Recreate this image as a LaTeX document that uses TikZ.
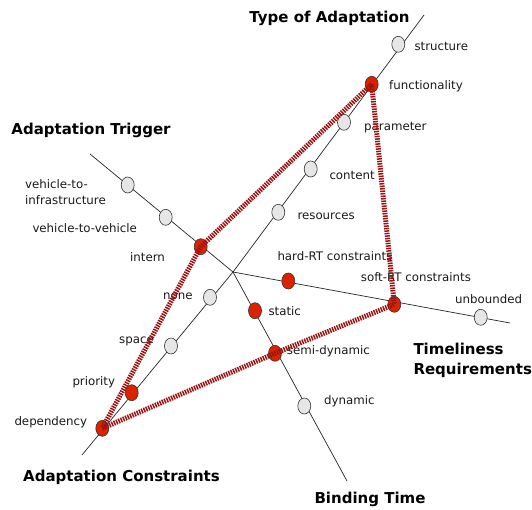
\documentclass[tikz,border=0pt]{standalone}
\usepackage{fontspec}
\setmainfont{DejaVu Sans}
\usetikzlibrary{shapes.geometric, positioning}
\definecolor{chipgray}{HTML}{E6E6E6}
\definecolor{chipred}{HTML}{DD2200}
\definecolor{pathred}{HTML}{9A1414}
\tikzset{
    % node styles
    value/.style = {ellipse, minimum width=13pt, minimum height=16pt, inner sep=0pt, draw=black!80, semithin, fill=chipgray},
    red value/.style = {value, fill=chipred},
    semithin/.style = {line width=0.6pt},
    % line styles
    axis/.style = {line width=0.7pt, black!85},
    profile/.style = {line width=5pt, draw=pathred, dash pattern=on 1.5pt off 1pt, line join=round},
    % label styles
    tag/.style = {font=\fontsize{11.8}{16}\selectfont, text=black!90, inner sep=0pt, anchor=west},
    title/.style = {font=\fontsize{15}{20}\selectfont\bfseries, inner sep=0pt}
}

\begin{document}
\begin{tikzpicture}[x=1pt, y=-1pt]
        \useasboundingbox (0,0) rectangle (532,510);

        % axes
        \coordinate (o) at (233,272);
        \coordinate (type end) at (424,15);
        \coordinate (constr end) at (82,455);
        \coordinate (trig end) at (90,154);
        \coordinate (time end) at (510,323);
        \coordinate (bind end) at (347,481);
        \draw[axis] (constr end) -- (o) -- (type end);
        \draw[axis] (trig end) -- (o);
        \draw[axis] (o) -- (time end);
        \draw[axis] (o) -- (bind end);

        % type of adaptation / adaptation constraints
        \node[value] (structure) at (398.3,44.3) {};
        \node[red value] (function) at (371.7,84.3) {};
        \node[value] (param) at (344,122.3) {};
        \node[value] (content) at (310.7,169) {};
        \node[value] (resources) at (278.3,212.3) {};
        \node[value] (none) at (210,297.3) {};
        \node[value] (space) at (171,346) {};
        \node[red value] (priority) at (131.7,392.7) {};
        \node[red value] (depend) at (102.3,428.3) {};

        % adaptation trigger
        \node[value] (v2i) at (127.7,185) {};
        \node[value] (v2v) at (165.7,217.3) {};
        \node[red value] (intern) at (200.7,246.7) {};

        % timeliness requirements
        \node[red value] (hard) at (288.3,281) {};
        \node[red value] (soft) at (394.3,304.3) {};
        \node[value] (unbound) at (480.7,317.3) {};

        % binding time
        \node[red value] (static) at (255,310.7) {};
        \node[red value] (semi) at (275,353.3) {};
        \node[value] (dynamic) at (304.3,406) {};

        % value labels
        \node[tag] (structure-l) at (414.3,46) {structure};
        \node[tag] (function-l) at (389,86) {functionality};
        \node[tag] (param-l) at (364,128) {parameter};
        \node[tag] (content-l) at (329.3,175) {content};
        \node[tag] (resources-l) at (297.3,216) {resources};
        \node[tag] (none-l) at (163,296) {none};
        \node[tag] (space-l) at (119,341) {space};
        \node[tag] (priority-l) at (72.3,382) {priority};
        \node[tag] (depend-l) at (14.3,422.3) {dependency};
        \node[tag, align=left] (v2i-l) at (25,192) {vehicle-to-\\infrastructure};
        \node[tag] (v2v-l) at (32.3,227.7) {vehicle-to-vehicle};
        \node[tag] (intern-l) at (130,256.7) {intern};
        \node[tag] (hard-l) at (277.3,256) {hard-RT constraints};
        \node[tag] (soft-l) at (360.7,277.3) {soft-RT constraints};
        \node[tag] (unbound-l) at (455,299) {unbounded};
        \node[tag] (static-l) at (268.3,311) {static};
        \node[tag] (semi-l) at (286.7,351.7) {semi-dynamic};
        \node[tag] (dynamic-l) at (324,401.7) {dynamic};

        % axis titles
        \node[title] (type-t) at (329.5,18) {Type of Adaptation};
        \node[title] (trig-t) at (91,130) {Adaptation Trigger};
        \node[title] (constr-t) at (121.5,477) {Adaptation Constraints};
        \node[title] (bind-t) at (370,499) {Binding Time};
        \node[title, anchor=west, align=left] (time-t) at (413.3,360) {Timeliness\\Requirements};

        % profile
        \draw[profile] (function.center) -- (intern.center) -- (depend.center)
            -- (semi.center) -- (soft.center) -- cycle;

    \end{tikzpicture}
\end{document}
